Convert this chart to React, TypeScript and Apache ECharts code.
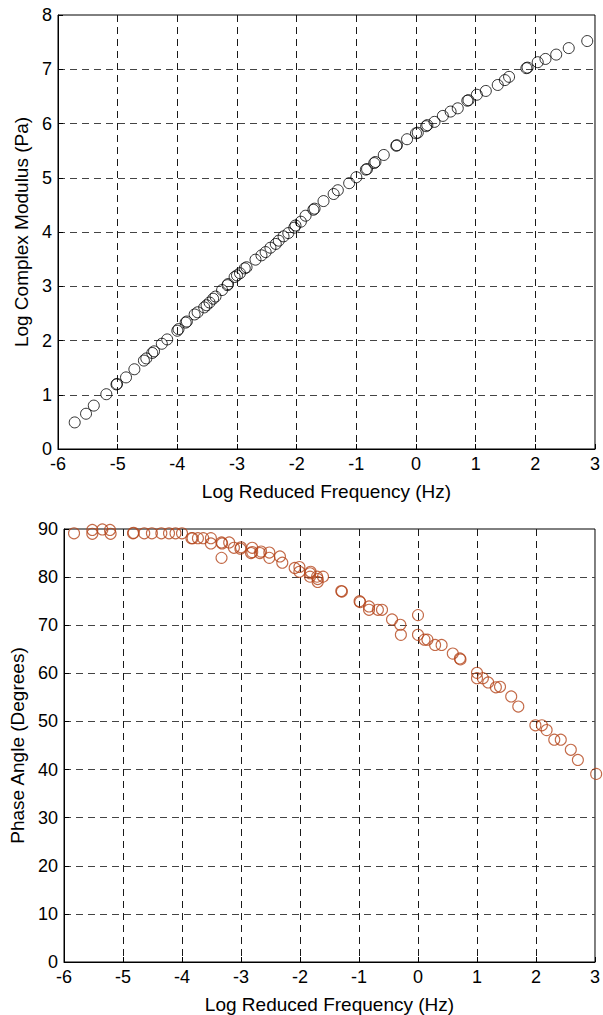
import React, { useEffect, useRef } from "react";
import * as echarts from "echarts";

// Log Complex Modulus vs Log Reduced Frequency
const modX = [
  -5.72, -5.53, -5.4, -5.19, -5.02, -5.01, -4.86, -4.72, -4.56, -4.52, -4.42, -4.39, -4.26, -4.17,
  -4.0, -3.98, -3.86, -3.84, -3.71, -3.66, -3.55, -3.51, -3.46, -3.4, -3.36, -3.25, -3.16, -3.15,
  -3.04, -3.0, -2.95, -2.87, -2.84, -2.69, -2.59, -2.52, -2.44, -2.35, -2.3, -2.22, -2.14, -2.04,
  -2.02, -1.93, -1.85, -1.72, -1.7, -1.55, -1.38, -1.31, -1.12, -1.0, -0.84, -0.82, -0.7, -0.68,
  -0.54, -0.33, -0.32, -0.15, 0.0, 0.03, 0.17, 0.19, 0.31, 0.45, 0.58, 0.7, 0.86, 0.88, 1.02, 1.17,
  1.37, 1.49, 1.56, 1.85, 1.87, 2.04, 2.17, 2.35, 2.56, 2.87,
];
const modY = [
  0.49, 0.65, 0.8, 1.01, 1.19, 1.2, 1.32, 1.47, 1.63, 1.67, 1.77, 1.8, 1.94, 2.02,
  2.18, 2.21, 2.33, 2.35, 2.48, 2.52, 2.61, 2.65, 2.7, 2.77, 2.81, 2.93, 3.02, 3.04,
  3.17, 3.2, 3.24, 3.33, 3.35, 3.49, 3.57, 3.63, 3.71, 3.78, 3.84, 3.92, 3.98, 4.08,
  4.12, 4.19, 4.3, 4.41, 4.43, 4.57, 4.7, 4.77, 4.9, 5.01, 5.15, 5.16, 5.27, 5.29,
  5.42, 5.59, 5.6, 5.71, 5.82, 5.83, 5.95, 5.97, 6.03, 6.14, 6.22, 6.28, 6.42, 6.43, 6.53, 6.6,
  6.71, 6.8, 6.86, 7.02, 7.03, 7.13, 7.19, 7.27, 7.39, 7.52,
];

// Phase Angle vs Log Reduced Frequency
const phaseX = [
  -5.83, -5.52, -5.52, -5.35, -5.22, -5.21, -4.83, -4.82, -4.64, -4.51, -4.35, -4.22, -4.11, -4.0,
  -3.84, -3.82, -3.73, -3.64, -3.51, -3.51, -3.33, -3.32, -3.33, -3.2, -3.12, -3.01, -3.0, -2.81,
  -2.83, -2.81, -2.68, -2.66, -2.52, -2.52, -2.34, -2.3, -2.09, -2.01, -2.01, -1.83, -1.82, -1.83,
  -1.7, -1.7, -1.71, -1.61, -1.3, -1.29, -0.99, -0.98, -0.83, -0.83, -0.68, -0.61, -0.44, -0.3,
  -0.29, 0.0, 0.0, 0.11, 0.16, 0.29, 0.4, 0.59, 0.71, 0.72, 1.0, 1.0, 1.1, 1.19, 1.32, 1.39, 1.58,
  1.7, 1.99, 2.1, 2.18, 2.31, 2.42, 2.59, 2.71, 3.02,
];
const phaseY = [
  89.1, 89.8, 89.0, 89.9, 89.8, 89.0, 89.1, 89.2, 89.1, 89.1, 89.1, 89.1, 89.1, 89.1,
  88.1, 88.1, 88.1, 88.1, 88.1, 87.0, 87.2, 87.0, 84.0, 87.2, 86.1, 85.9, 86.2, 86.1,
  85.0, 85.2, 85.0, 85.3, 85.1, 84.0, 84.3, 83.0, 81.9, 82.1, 81.1, 80.8, 81.1, 80.1,
  79.6, 79.0, 80.1, 80.1, 77.1, 77.0, 75.0, 74.8, 73.9, 73.2, 73.2, 73.2, 71.2, 70.1,
  68.0, 72.1, 68.0, 67.0, 67.0, 65.9, 65.9, 64.1, 63.1, 62.9, 60.1, 59.0, 59.0, 58.1, 57.1, 57.2, 55.2,
  53.1, 49.2, 49.2, 48.2, 46.2, 46.2, 44.1, 42.0, 39.1,
];

const xTicks = [-6, -5, -4, -3, -2, -1, 0, 1, 2, 3];
const xAxisTitle = "Log Reduced Frequency (Hz)";
const topYTitle = "Log Complex Modulus (Pa)";
const bottomYTitle = "Phase Angle (Degrees)";

const FONT = "Liberation Sans, Arial, Helvetica, sans-serif";

export default function App() {
  const ref = useRef<HTMLDivElement>(null);
  useEffect(() => {
    if (!ref.current) return;
    const chart = echarts.init(ref.current, null, { renderer: "svg" });
    const dashV = { show: true, showMinLine: false, showMaxLine: false, lineStyle: { color: "#1a1a1a", type: [7, 5], width: 1 } };
    const dashH = { show: true, showMinLine: false, showMaxLine: false, lineStyle: { color: "#444", type: [7, 5], width: 1 } };
    const axisLabel = { color: "#000", fontSize: 18, fontFamily: FONT, margin: 6 };
    const nameStyle = { color: "#000", fontSize: 19, fontFamily: FONT };
    const mkX = (gi: number) => ({
      type: "value",
      gridIndex: gi,
      min: xTicks[0],
      max: xTicks[xTicks.length - 1],
      interval: 1,
      name: xAxisTitle,
      nameLocation: "middle",
      nameGap: 33,
      nameTextStyle: nameStyle,
      axisLine: { show: true, onZero: false, lineStyle: { color: "#000", width: 1 } },
      axisTick: { show: true, inside: true, length: 5, lineStyle: { color: "#000" } },
      axisLabel: { ...axisLabel, margin: 6 },
      splitLine: dashV,
    });
    const mkY = (gi: number, max: number, interval: number, name: string, gap: number) => ({
      type: "value",
      gridIndex: gi,
      min: 0,
      max,
      interval,
      name,
      nameLocation: "middle",
      nameGap: gap,
      nameTextStyle: nameStyle,
      axisLine: { show: true, onZero: false, lineStyle: { color: "#000", width: 1 } },
      axisTick: { show: true, inside: true, length: 5, lineStyle: { color: "#000" } },
      axisLabel,
      splitLine: dashH,
    });
    chart.setOption({
      animation: false,
      backgroundColor: "#fff",
      grid: [
        { left: 58, right: 7, top: 15, height: 434, show: true, borderColor: "#000", borderWidth: 1, backgroundColor: "transparent" },
        { left: 58, right: 7, top: 529, height: 434.5, show: true, borderColor: "#000", borderWidth: 1, backgroundColor: "transparent" },
      ],
      xAxis: [mkX(0), mkX(1)],
      yAxis: [mkY(0, 8, 1, topYTitle, 24), mkY(1, 90, 10, bottomYTitle, 37)],
      series: [
        {
          type: "scatter",
          xAxisIndex: 0,
          yAxisIndex: 0,
          clip: false,
          symbol: "circle",
          symbolSize: 11,
          itemStyle: { color: "rgba(0,0,0,0)", borderColor: "#000", borderWidth: 1 },
          data: modX.map((x, i) => [x, modY[i]]),
        },
        {
          type: "scatter",
          xAxisIndex: 1,
          yAxisIndex: 1,
          clip: false,
          symbol: "circle",
          symbolSize: 11,
          itemStyle: { color: "rgba(0,0,0,0)", borderColor: "#b4451a", borderWidth: 1.1 },
          data: phaseX.map((x, i) => [x, phaseY[i]]),
        },
      ],
    });
    return () => chart.dispose();
  }, []);
  return (
    <div
      ref={ref}
      style={{ position: "absolute", left: 0, top: 0, width: 603, height: 1015 }}
    />
  );
}
